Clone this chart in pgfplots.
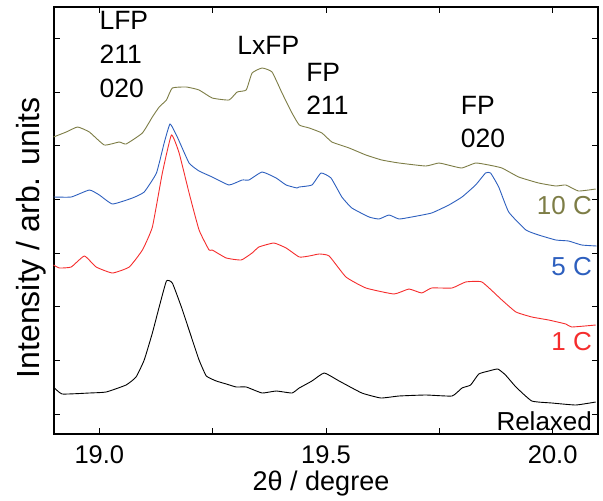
\documentclass[border=0pt]{standalone}
\usepackage{pgfplots}
\pgfplotsset{compat=1.18}
\usepackage{fontspec}
\setmainfont{Liberation Sans}
\definecolor{cOlive}{RGB}{125,125,70}
\definecolor{cBlue}{RGB}{45,95,190}
\definecolor{cRed}{RGB}{245,45,45}
\begin{document}
\begin{tikzpicture}
\path[use as bounding box] (-54pt,-67pt) rectangle (549pt,434pt);
\begin{axis}[
  at={(0pt,0pt)}, anchor=south west,
  scale only axis, width=544pt, height=427pt,
  xmin=18.9, xmax=20.1, ymin=0, ymax=427,
  xtick={19,19.5,20}, xticklabels={19.0,19.5,20.0},
  minor xtick={19.25,19.75},
  ytick={20,74,128,181,235,289,342,396}, yticklabels={},
  tick align=inside, major tick length=6pt, minor tick length=6pt,
  every tick/.style={black, line width=0.9pt},
  axis line style={line width=1.4pt},
  /pgf/number format/assume math mode=true,
  ticklabel style={font=\fontsize{25.5}{27}\selectfont},
  xticklabel style={anchor=base, yshift=-29pt},
  clip=false,
  every axis plot/.append style={line width=0.9pt, smooth, tension=0.25},
]
\addplot[black] coordinates {
(18.899,47)(18.918,40)(18.978,41)(19.015,42)(19.059,49)(19.081,57)(19.099,74)(19.117,101)(19.132,127)(19.148,153)(19.161,151)(19.181,127)(19.203,97)(19.220,74)(19.236,58)(19.258,53)(19.280,50)(19.302,47)(19.324,47)(19.359,41)(19.390,43)(19.425,41)(19.441,46)(19.469,53)(19.496,61)(19.529,53)(19.579,41)(19.621,36)(19.661,38)(19.720,39)(19.778,38)(19.800,46)(19.819,49)(19.837,60)(19.859,63)(19.879,65)(19.896,59)(19.919,47)(19.954,33)(19.998,31)(20.051,29)(20.095,32)
};
\addplot[cRed] coordinates {
(18.899,169)(18.912,166)(18.938,167)(18.967,178)(18.993,167)(19.029,161)(19.066,167)(19.095,184)(19.117,207)(19.139,261)(19.159,299)(19.176,281)(19.198,241)(19.220,204)(19.242,184)(19.249,184)(19.280,176)(19.313,174)(19.337,181)(19.352,187)(19.385,191)(19.412,186)(19.441,177)(19.463,178)(19.485,180)(19.507,178)(19.544,157)(19.588,146)(19.650,140)(19.683,145)(19.711,141)(19.733,146)(19.778,146)(19.808,152)(19.844,152)(19.888,134)(19.919,122)(19.954,117)(19.991,114)(20.029,110)(20.042,107)(20.095,109)
};
\addplot[cBlue] coordinates {
(18.899,237)(18.938,237)(18.978,244)(19.000,239)(19.029,230)(19.073,236)(19.099,242)(19.126,261)(19.143,291)(19.156,310)(19.172,297)(19.198,271)(19.220,263)(19.249,257)(19.286,249)(19.315,254)(19.330,254)(19.359,262)(19.390,256)(19.412,249)(19.436,246)(19.441,247)(19.469,249)(19.489,261)(19.511,256)(19.535,237)(19.557,226)(19.595,217)(19.617,215)(19.639,219)(19.661,215)(19.689,217)(19.733,221)(19.771,229)(19.800,237)(19.830,249)(19.852,261)(19.863,261)(19.881,247)(19.903,222)(19.941,204)(19.969,199)(20.007,194)(20.035,193)(20.064,189)(20.097,188)
};
\addplot[cOlive] coordinates {
(18.899,297)(18.927,302)(18.952,307)(18.978,302)(19.011,289)(19.044,292)(19.059,290)(19.095,301)(19.117,317)(19.132,327)(19.148,334)(19.161,346)(19.192,347)(19.220,344)(19.249,336)(19.286,334)(19.304,342)(19.324,344)(19.337,361)(19.359,366)(19.381,362)(19.403,341)(19.425,321)(19.441,309)(19.463,306)(19.491,301)(19.513,292)(19.551,286)(19.588,279)(19.623,274)(19.661,271)(19.720,268)(19.749,271)(19.778,268)(19.800,266)(19.830,271)(19.859,269)(19.888,266)(19.925,257)(19.969,251)(20.007,248)(20.029,249)(20.057,243)(20.095,245)
};
\begin{scope}[every node/.style={font=\fontsize{26.5}{30}\selectfont, inner sep=0pt, anchor=base west}]
\node at (axis cs:19.0,404) {LFP};
\node at (axis cs:19.0,370) {211};
\node at (axis cs:19.0,336) {020};
\node at (axis cs:19.304,379) {LxFP};
\node at (axis cs:19.456,352) {FP};
\node at (axis cs:19.456,319) {211};
\node at (axis cs:19.797,319) {FP};
\node at (axis cs:19.797,286) {020};
\end{scope}
\begin{scope}[every node/.style={font=\fontsize{26}{30}\selectfont, inner sep=0pt, anchor=base east}]
\node[text=cOlive] at (axis cs:20.087,219) {10 C};
\node[text=cBlue] at (axis cs:20.087,159) {5 C};
\node[text=cRed] at (axis cs:20.087,84) {1 C};
\node[text=black] at (axis cs:20.087,4) {Relaxed};
\end{scope}
\node[font=\fontsize{27}{30}\selectfont, inner sep=0pt, anchor=base] at (axis cs:19.489,-56) {2θ / degree};
\node[font=\fontsize{32}{34}\selectfont, inner sep=0pt, anchor=north, rotate=90] at (axis cs:18.817,196) {Intensity / arb. units};
\end{axis}
\end{tikzpicture}
\end{document}
